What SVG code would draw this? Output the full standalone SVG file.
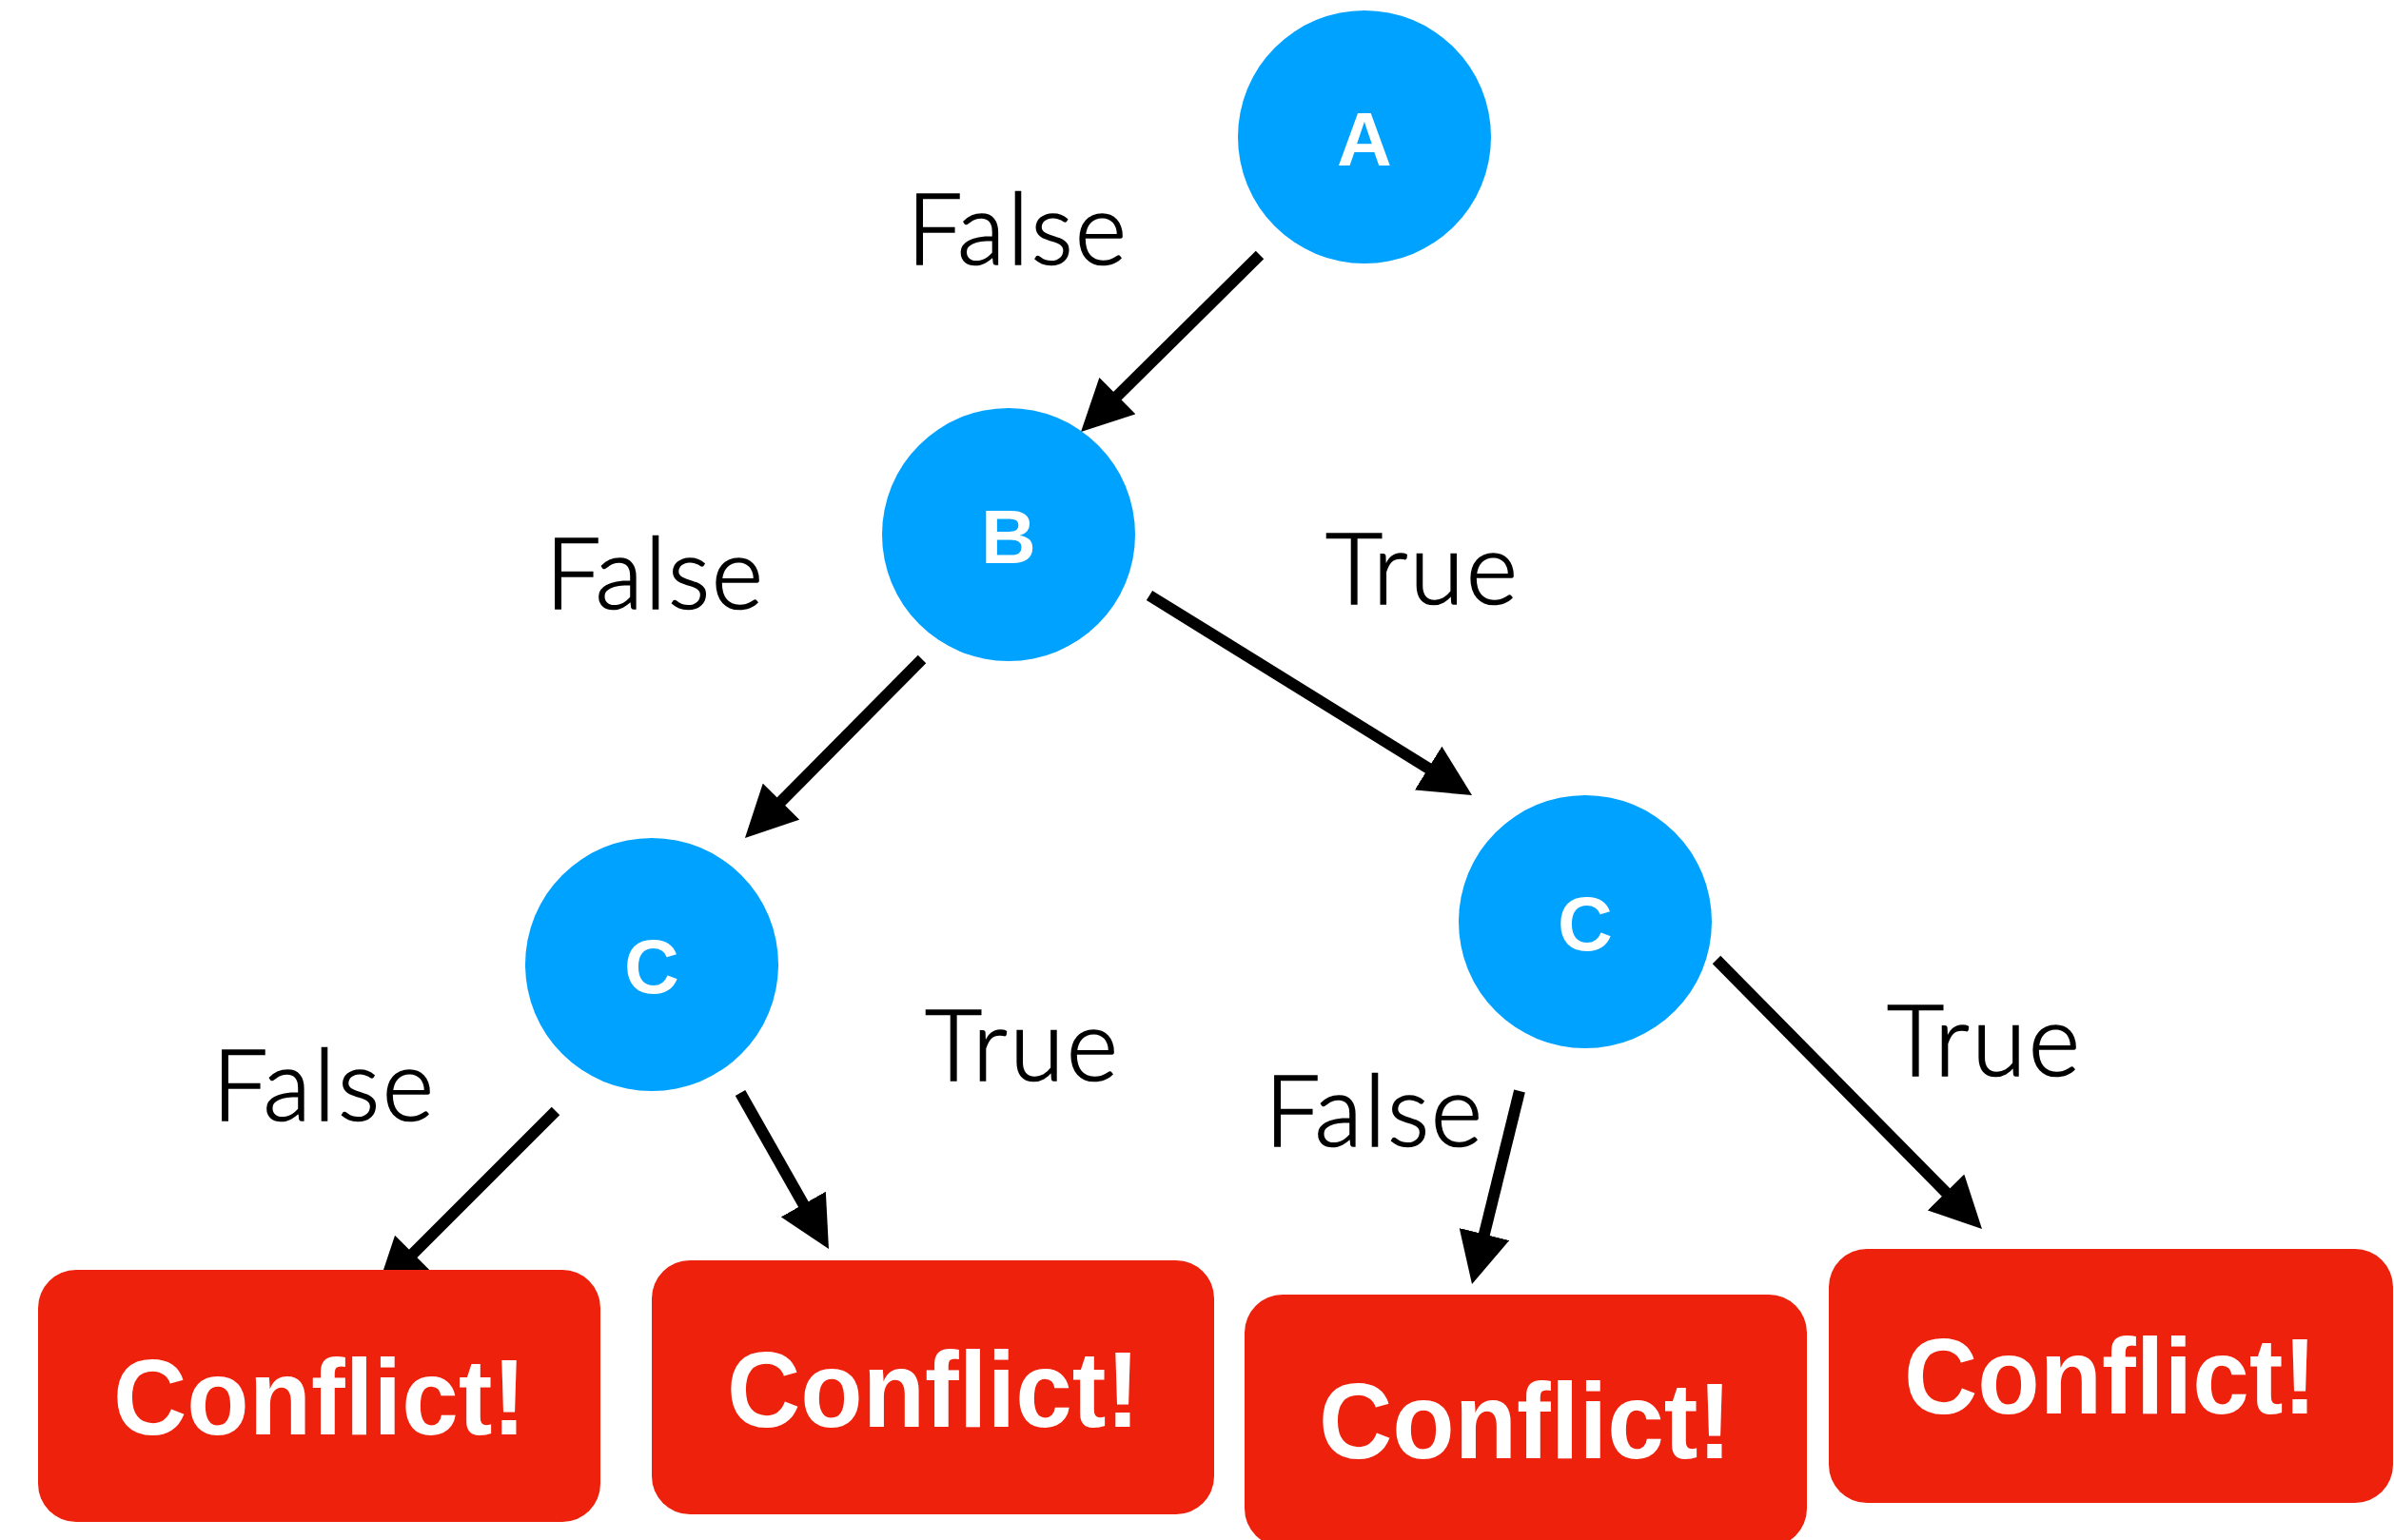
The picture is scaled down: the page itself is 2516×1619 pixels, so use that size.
<svg xmlns="http://www.w3.org/2000/svg" width="2516" height="1619" viewBox="0 0 2516 1619">
  <style>
    .node { fill: #00A2FF; }
    .node-label { fill: #FFFFFF; font-family: "Liberation Sans", Arial, sans-serif; font-weight: bold; font-size: 80px; text-anchor: middle; }
    .box { fill: #EE220C; }
    .box-label { fill: #FFFFFF; font-family: "Liberation Sans", Arial, sans-serif; font-weight: bold; font-size: 113px; text-anchor: middle; }
    .edge { stroke: #000000; stroke-width: 12; fill: none; marker-end: url(#head); }
    .edge-label { fill: #000000; stroke: #000000; stroke-width: 1.6; font-family: "Lato", "Liberation Sans", sans-serif; font-weight: 300; font-size: 104px; }
  </style>
  <defs>
    <marker id="head" viewBox="0 0 54 54" refX="8" refY="27" markerWidth="54" markerHeight="54" markerUnits="userSpaceOnUse" orient="auto">
      <path d="M0,0 L54,27 L0,54 Z" fill="#000000"/>
    </marker>
  </defs>
  <rect width="2516" height="1619" fill="#FFFFFF"/>

  <!-- connectors -->
  <g id="connectors">
    <line class="edge" x1="1324" y1="268" x2="1168.7" y2="421.7"/>
    <line class="edge" x1="969" y1="693" x2="815.3" y2="848.3"/>
    <line class="edge" x1="1208" y1="626" x2="1507.9" y2="811.8"/>
    <line class="edge" x1="584" y1="1168" x2="428.5" y2="1323.5"/>
    <line class="edge" x1="778" y1="1149" x2="848.3" y2="1273"/>
    <line class="edge" x1="1597" y1="1147" x2="1558" y2="1305.3"/>
    <line class="edge" x1="1804" y1="1009" x2="2050.7" y2="1259.2"/>
  </g>

  <!-- edge labels -->
  <g id="edge-labels">
    <text class="edge-label" x="953" y="278" textLength="231" lengthAdjust="spacing">False</text>
    <text class="edge-label" x="573" y="640" textLength="229" lengthAdjust="spacing">False</text>
    <text class="edge-label" x="1393" y="635" textLength="202" lengthAdjust="spacing">True</text>
    <text class="edge-label" x="223" y="1178" textLength="233" lengthAdjust="spacing">False</text>
    <text class="edge-label" x="972" y="1136" textLength="203" lengthAdjust="spacing">True</text>
    <text class="edge-label" x="1329" y="1205" textLength="229" lengthAdjust="spacing">False</text>
    <text class="edge-label" x="1983" y="1131" textLength="203" lengthAdjust="spacing">True</text>
  </g>

  <!-- decision nodes -->
  <g id="node-a">
    <circle class="node" cx="1434" cy="144" r="133"/>
    <text class="node-label" x="1434" y="174">A</text>
  </g>
  <g id="node-b">
    <circle class="node" cx="1060" cy="562" r="133"/>
    <text class="node-label" x="1060" y="592">B</text>
  </g>
  <g id="node-c-left">
    <circle class="node" cx="685" cy="1014" r="133"/>
    <text class="node-label" x="685" y="1044">C</text>
  </g>
  <g id="node-c-right">
    <circle class="node" cx="1666" cy="969" r="133"/>
    <text class="node-label" x="1666" y="999">C</text>
  </g>

  <!-- outcome boxes -->
  <g id="conflict-1">
    <rect class="box" x="40" y="1335" width="591" height="265" rx="40"/>
    <text class="box-label" x="336" y="1508" textLength="434" lengthAdjust="spacingAndGlyphs">Conflict!</text>
  </g>
  <g id="conflict-2">
    <rect class="box" x="685" y="1325" width="591" height="267" rx="40"/>
    <text class="box-label" x="981" y="1500" textLength="434" lengthAdjust="spacingAndGlyphs">Conflict!</text>
  </g>
  <g id="conflict-3">
    <rect class="box" x="1308" y="1361" width="591" height="265" rx="40"/>
    <text class="box-label" x="1603" y="1533" textLength="434" lengthAdjust="spacingAndGlyphs">Conflict!</text>
  </g>
  <g id="conflict-4">
    <rect class="box" x="1922" y="1313" width="593" height="267" rx="40"/>
    <text class="box-label" x="2218" y="1486" textLength="434" lengthAdjust="spacingAndGlyphs">Conflict!</text>
  </g>
</svg>
